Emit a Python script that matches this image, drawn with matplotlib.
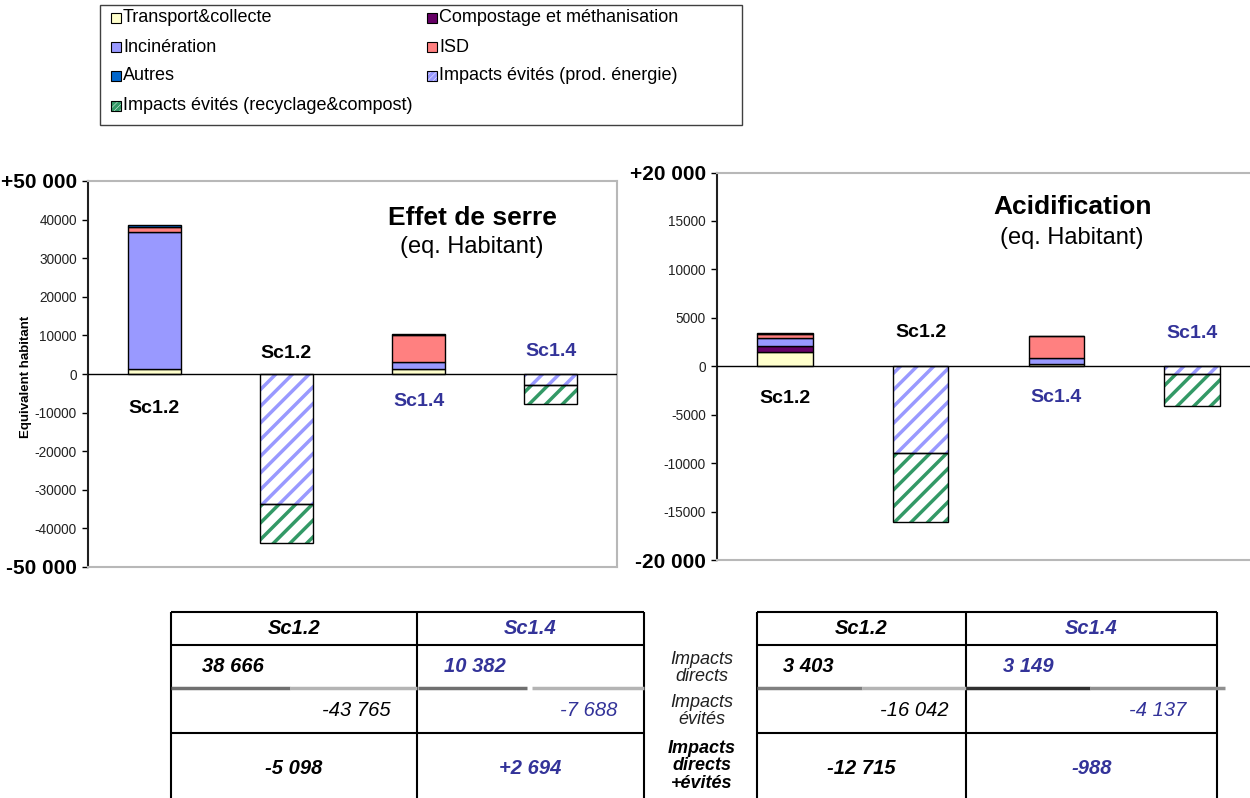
import matplotlib
matplotlib.use('Agg')
import matplotlib.pyplot as plt
import numpy as np
from matplotlib.patches import Rectangle

plt.rcParams['font.family'] = ['Liberation Sans', 'DejaVu Sans']
plt.rcParams['hatch.linewidth'] = 2.5

# ---------------- data ----------------
bar_groups = ['Sc1.2 directs', 'Sc1.2 évités', 'Sc1.4 directs', 'Sc1.4 évités']
scenarios = ['Sc1.2', 'Sc1.4']
series_names = ['Transport&collecte', 'Compostage et méthanisation', 'Incinération', 'ISD',
                'Autres', 'Impacts évités (prod. énergie)', 'Impacts évités (recyclage&compost)']

# Effet de serre (eq. habitant)
ges_transport = [1400, 0, 1200, 0]
ges_compost = [0, 0, 0, 0]
ges_incineration = [35500, 0, 1830, 0]
ges_isd = [1100, 0, 6950, 0]
ges_autres = [666, 0, 402, 0]
ges_energie = [0, -33700, 0, -2900]
ges_recyclage = [0, -10065, 0, -4788]

# Acidification (eq. habitant)
acid_transport = [1500, 0, 200, 0]
acid_compost = [600, 0, 0, 0]
acid_incineration = [850, 0, 700, 0]
acid_isd = [330, 0, 2180, 0]
acid_autres = [123, 0, 69, 0]
acid_energie = [0, -9000, 0, -800]
acid_recyclage = [0, -7042, 0, -3337]

# tables
table_row_labels = ['Impacts\ndirects', 'Impacts\névités', 'Impacts\ndirects\n+évités']
ges_directs = [38666, 10382]
ges_evites = [-43765, -7688]
ges_total = [-5098, 2694]
acid_directs = [3403, 3149]
acid_evites = [-16042, -4137]
acid_total = [-12715, -988]

# ---------------- style ----------------
colors = ['#FFFFCC', '#660066', '#9999FF', '#FF8080', '#0066CC']
hatch_colors = ['#9999FF', '#339966']
BLUE = '#333399'
scen_colors = ['black', BLUE]


def fmt(v, plus=False):
    s = f"{abs(v):,}".replace(',', ' ')
    if v < 0:
        return '-' + s
    return ('+' + s) if plus else s


W, H = 1250, 798
fig = plt.figure(figsize=(W / 100, H / 100), dpi=100)


def draw_chart(ax, pos_series, neg_series, ymax, step, width, labels_pos):
    x = np.arange(len(bar_groups))
    bottom = np.zeros(len(x))
    for vals, col in zip(pos_series, colors):
        v = np.array(vals, dtype=float)
        m = v != 0
        if m.any():
            ax.bar(x[m], v[m], width, bottom=bottom[m], color=col, edgecolor='black',
                   linewidth=1, zorder=3)
        bottom += v
    nb = np.zeros(len(x))
    for vals, hc in zip(neg_series, hatch_colors):
        v = np.array(vals, dtype=float)
        m = v != 0
        if m.any():
            ax.bar(x[m], v[m], width, bottom=nb[m], color='white', edgecolor=hc,
                   hatch='//', linewidth=0, zorder=3)
            ax.bar(x[m], v[m], width, bottom=nb[m], fill=False, edgecolor='black',
                   linewidth=1, zorder=4)
        nb += v
    ax.axhline(0, color='black', lw=1, zorder=5)
    ax.set_xlim(-0.5, len(x) - 0.5)
    ax.set_ylim(-ymax, ymax)
    ticks = np.arange(-ymax, ymax + 1, step)
    ax.set_yticks(ticks)
    lbls = []
    for t in ticks:
        if t == ymax:
            lbls.append('+' + fmt(int(t)))
        elif t == -ymax:
            lbls.append(fmt(int(t)))
        else:
            lbls.append(str(int(t)))
    ax.set_yticklabels(lbls)
    ax.tick_params(axis='y', direction='out', length=4, width=1, labelsize=9.8,
                   labelcolor='#222222', pad=4)
    for t, lab in zip(ticks, ax.get_yticklabels()):
        if abs(t) == ymax:
            lab.set_fontsize(15)
            lab.set_fontweight('bold')
            lab.set_color('black')
    ax.set_xticks([])
    for s in ['top', 'right', 'bottom']:
        ax.spines[s].set_color('#B8B8B8')
        ax.spines[s].set_linewidth(1.5)
    ax.spines['left'].set_color('#202020')
    ax.spines['left'].set_linewidth(1.5)
    for xi, yv in zip(x, labels_pos):
        sc = 0 if xi < 2 else 1
        ax.text(xi, yv, scenarios[sc], ha='center', va='center', fontsize=14,
                fontweight='bold', color=scen_colors[sc], zorder=6)


# left chart
ax1 = fig.add_axes([88 / W, 1 - 567 / H, 529 / W, 386 / H])
draw_chart(ax1, [ges_transport, ges_compost, ges_incineration, ges_isd, ges_autres],
           [ges_energie, ges_recyclage], 50000, 10000, 0.4, [-9000, 5400, -7200, 5800])
ax1.text(0.726, 0.904, 'Effet de serre', transform=ax1.transAxes, ha='center', va='center',
         fontsize=19, fontweight='bold')
ax1.text(0.726, 0.829, '(eq. Habitant)', transform=ax1.transAxes, ha='center', va='center',
         fontsize=17)
ax1.set_ylabel('Equivalent habitant', fontsize=9.5, fontweight='bold')
ax1.yaxis.set_label_coords(-0.106, 0.492)

# right chart
ax2 = fig.add_axes([717 / W, 1 - 560 / H, 543 / W, 387.5 / H])
draw_chart(ax2, [acid_transport, acid_compost, acid_incineration, acid_isd, acid_autres],
           [acid_energie, acid_recyclage], 20000, 5000, 0.41, [-3300, 3500, -3250, 3400])
ax2.text(0.654, 0.911, 'Acidification', transform=ax2.transAxes, ha='center', va='center',
         fontsize=19, fontweight='bold')
ax2.text(0.654, 0.831, '(eq. Habitant)', transform=ax2.transAxes, ha='center', va='center',
         fontsize=17)

# overlay in pixel coordinates for legend and tables
ov = fig.add_axes([0, 0, 1, 1])
ov.set_xlim(0, W)
ov.set_ylim(H, 0)
ov.axis('off')

# legend
ov.add_patch(Rectangle((100, 5), 642, 120, fill=False, edgecolor='#404040', lw=1))
leg_pos = [(111, 18), (427, 18), (111, 47), (427, 47), (111, 76), (427, 76), (111, 106)]
for i, (lx, ly) in enumerate(leg_pos):
    if i < 5:
        ov.add_patch(Rectangle((lx, ly - 5), 10, 10, facecolor=colors[i], edgecolor='black', lw=0.8))
    else:
        ov.add_patch(Rectangle((lx, ly - 5), 10, 10, facecolor='white', edgecolor=hatch_colors[i - 5],
                               hatch='//////', lw=0))
        ov.add_patch(Rectangle((lx, ly - 5), 10, 10, fill=False, edgecolor='black', lw=0.8))
    ov.text(lx + 12, ly, series_names[i], ha='left', va='center', fontsize=13)

# tables
tables = [
    dict(x=[171, 417, 644], directs=ges_directs, evites=ges_evites, total=ges_total,
         dx=[202, 444], ex=[391, 617],
         sep=[(171, 290, '#707070'), (290, 417, '#B4B4B4'), (418, 527, '#707070'), (532, 644, '#B4B4B4')]),
    dict(x=[757, 966, 1217], directs=acid_directs, evites=acid_evites, total=acid_total,
         dx=[783, 1003], ex=[949, 1186],
         sep=[(757, 862, '#808080'), (862, 966, '#B4B4B4'), (966, 1090, '#303030'), (1090, 1225, '#909090')]),
]
for tb in tables:
    xs = tb['x']
    for yy in [612, 645, 733]:
        ov.plot([xs[0], xs[-1]], [yy, yy], color='black', lw=1.5, solid_capstyle='butt')
    for xx in xs:
        ov.plot([xx, xx], [612, 800], color='black', lw=1.5, solid_capstyle='butt')
    for a, b, c in tb['sep']:
        ov.plot([a, b], [688, 688], color=c, lw=2.5, solid_capstyle='butt')
    for j in range(2):
        cx = (xs[j] + xs[j + 1]) / 2
        col = scen_colors[j]
        ov.text(cx, 628, scenarios[j], ha='center', va='center', fontsize=14.5,
                fontweight='bold', style='italic', color=col)
        ov.text(tb['dx'][j], 667, fmt(tb['directs'][j]), ha='left', va='center', fontsize=14.5,
                fontweight='bold', style='italic', color=col)
        ov.text(tb['ex'][j], 710, fmt(tb['evites'][j]), ha='right', va='center', fontsize=14.5,
                style='italic', color=col)
        ov.text(cx, 768, fmt(tb['total'][j], plus=True), ha='center', va='center', fontsize=14.5,
                fontweight='bold', style='italic', color=col)

ov.text(702, 668, table_row_labels[0], ha='center', va='center', fontsize=13, style='italic',
        linespacing=1.05, color='#202020')
ov.text(702, 711, table_row_labels[1], ha='center', va='center', fontsize=13, style='italic',
        linespacing=1.05, color='#202020')
ov.text(702, 766, table_row_labels[2], ha='center', va='center', fontsize=13, style='italic',
        fontweight='bold', linespacing=1.05)

fig.savefig('out.png', dpi=100)
